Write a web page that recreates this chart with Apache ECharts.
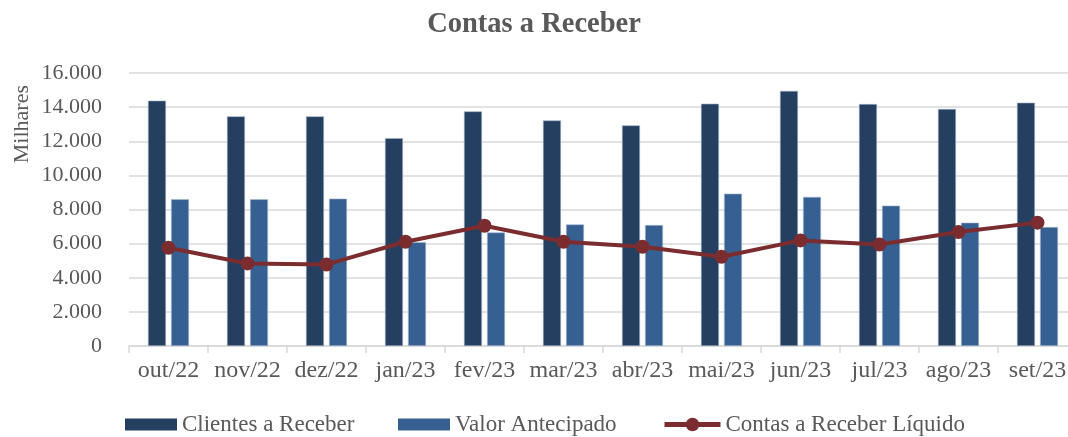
<!DOCTYPE html>
<html>
<head>
<meta charset="utf-8">
<script src="https://cdn.jsdelivr.net/npm/echarts@6/dist/echarts.min.js"></script>
<style>
	html, body { margin: 0; padding: 0; background: #fff; }
	#main { width: 1068px; height: 437px; }
</style>
</head>
<body>
<div id="main"></div>
<script>
// meses
var meses = ['out/22', 'nov/22', 'dez/22', 'jan/23', 'fev/23', 'mar/23', 'abr/23', 'mai/23', 'jun/23', 'jul/23', 'ago/23', 'set/23'];
// valores em milhares
var clientesReceber = [14380, 13460, 13460, 12180, 13750, 13220, 12930, 14200, 14950, 14180, 13890, 14260];
var valorAntecipado = [8600, 8600, 8640, 6090, 6660, 7130, 7090, 8930, 8740, 8230, 7230, 6970];
var receberLiquido = [5760, 4840, 4780, 6110, 7050, 6110, 5820, 5230, 6190, 5950, 6680, 7230];

var fonte = 'Liberation Serif';
var cinza = '#595959';
var vinho = '#7b2c2f';

function legenda(nome, esq, larg, alt, linha) {
	return {
		left: esq,
		top: 413,
		padding: 0,
		itemWidth: larg,
		itemHeight: alt,
		itemGap: 0,
		icon: linha ? undefined : 'rect',
		itemStyle: { borderWidth: 0 },
		lineStyle: { width: 5 },
		textStyle: {
			fontFamily: fonte,
			fontSize: 23,
			color: cinza
		},
		data: [nome]
	};
}

var myChart = echarts.init(document.getElementById('main'));
myChart.setOption({
	animation: false,
	textStyle: {
		fontFamily: fonte
	},
	title: {
		text: 'Contas a Receber',
		left: 'center',
		top: 5,
		textStyle: {
			fontFamily: fonte,
			fontSize: 28.5,
			fontWeight: 'bold',
			color: cinza
		}
	},
	legend: [
		legenda('Clientes a Receber', 125, 52, 12),
		legenda('Valor Antecipado', 398, 52, 12),
		legenda('Contas a Receber Líquido', 662, 56, 17, true)
	],
	grid: {
		left: 129,
		top: 73,
		width: 948,
		height: 273,
		outerBoundsMode: 'none'
	},
	xAxis: [{
		type: 'category',
		data: meses,
		axisLine: {
			lineStyle: { color: '#d9d9d9', width: 1.5 }
		},
		axisTick: {
			show: true,
			interval: 0,
			length: 7,
			lineStyle: { color: '#d9d9d9', width: 1.5 }
		},
		axisLabel: {
			interval: 0,
			hideOverlap: false,
			fontFamily: fonte,
			fontSize: 24,
			color: cinza,
			margin: 13
		}
	}],
	yAxis: [{
		type: 'value',
		min: 0,
		max: 16000,
		interval: 2000,
		name: 'Milhares',
		nameLocation: 'end',
		nameRotate: 90,
		nameGap: 0,
		nameTextStyle: {
			fontFamily: fonte,
			fontSize: 22,
			color: cinza,
			align: 'right',
			verticalAlign: 'bottom',
			padding: [0, 12, 96, 0]
		},
		axisLine: { show: false },
		axisTick: { show: false },
		axisLabel: {
			fontFamily: fonte,
			fontSize: 22,
			color: cinza,
			margin: 27,
			formatter: function(v) {
				return v.toLocaleString('de-DE');
			}
		},
		splitLine: {
			lineStyle: { color: '#d9d9d9', width: 1.5 }
		}
	}],
	series: [{
		name: 'Clientes a Receber',
		type: 'bar',
		data: clientesReceber,
		barWidth: 18,
		barGap: '28%',
		itemStyle: {
			color: '#243f60',
			borderColor: '#9fb0c6',
			borderWidth: 0.6
		}
	}, {
		name: 'Valor Antecipado',
		type: 'bar',
		data: valorAntecipado,
		barWidth: 18,
		itemStyle: {
			color: '#366092',
			borderColor: '#a9bcd4',
			borderWidth: 0.6
		}
	}, {
		name: 'Contas a Receber Líquido',
		type: 'line',
		data: receberLiquido,
		symbol: 'circle',
		symbolSize: 14,
		lineStyle: { color: vinho, width: 4 },
		itemStyle: { color: vinho }
	}]
});
</script>
</body>
</html>
